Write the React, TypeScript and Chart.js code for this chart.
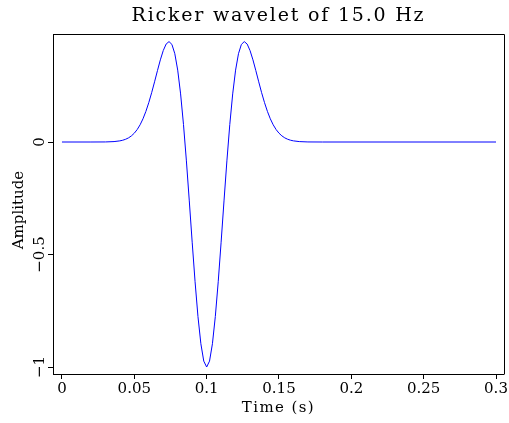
import React, { useEffect, useRef } from "react";
import { Chart, registerables } from "chart.js";

Chart.register(...registerables);

const TITLE = "Ricker wavelet of 15.0 Hz";
const X_TITLE = "Time (s)";
const Y_TITLE = "Amplitude";

const xTicks = [0, 0.05, 0.1, 0.15, 0.2, 0.25, 0.3];
const xTickLabels = ["0", "0.05", "0.1", "0.15", "0.2", "0.25", "0.3"];
const yTicks = [-1, -0.5, 0];
const yTickLabels = ["\u22121", "\u22120.5", "0"];

const times = [
  0, 0.02, 0.03, 0.036,
  0.04, 0.042, 0.044, 0.046, 0.048, 0.05, 0.052, 0.054, 0.056, 0.058,
  0.06, 0.062, 0.064, 0.066, 0.068, 0.07, 0.072, 0.074, 0.076, 0.078,
  0.08, 0.082, 0.084, 0.086, 0.088, 0.09, 0.092, 0.094, 0.096, 0.098,
  0.1,
  0.102, 0.104, 0.106, 0.108, 0.11, 0.112, 0.114, 0.116, 0.118, 0.12,
  0.122, 0.124, 0.126, 0.128, 0.13, 0.132, 0.134, 0.136, 0.138, 0.14,
  0.142, 0.144, 0.146, 0.148, 0.15, 0.152, 0.154, 0.156, 0.158, 0.16,
  0.164, 0.17, 0.18, 0.3,
];

const amplitudes = [
  0, 0, 0.0003, 0.0019,
  0.0051, 0.0079, 0.0122, 0.0184, 0.0272, 0.0392, 0.0554, 0.0765, 0.1032, 0.136,
  0.1749, 0.2192, 0.2675, 0.3173, 0.3651, 0.4062, 0.4353, 0.4463, 0.4336, 0.3924,
  0.3194, 0.2138, 0.0776, -0.0838, -0.2618, -0.4452, -0.6209, -0.7756, -0.8965, -0.9736,
  -1,
  -0.9736, -0.8965, -0.7756, -0.6209, -0.4452, -0.2618, -0.0838, 0.0776, 0.2138, 0.3194,
  0.3924, 0.4336, 0.4463, 0.4353, 0.4062, 0.3651, 0.3173, 0.2675, 0.2192, 0.1749,
  0.136, 0.1032, 0.0765, 0.0554, 0.0392, 0.0272, 0.0184, 0.0122, 0.0079, 0.0051,
  0.0019, 0.0003, 0, 0,
];

const FONT = "'DejaVu Serif', serif";

const framePlugin = {
  id: "framePlugin",
  afterDraw(chart: any) {
    const ctx = chart.ctx as CanvasRenderingContext2D;
    const { left, right, top, bottom } = chart.chartArea;
    const ys = chart.scales.y;
    ctx.save();
    ctx.strokeStyle = "#000";
    ctx.lineWidth = 1;
    ctx.beginPath();
    ctx.moveTo(Math.round(left) + 0.5, Math.round(top) + 0.5);
    ctx.lineTo(Math.round(right) + 0.5, Math.round(top) + 0.5);
    ctx.lineTo(Math.round(right) + 0.5, Math.round(bottom) + 0.5);
    ctx.stroke();

    ctx.fillStyle = "#000";
    // title
    ctx.font = `19px ${FONT}`;
    (ctx as any).letterSpacing = "1.8px";
    ctx.textAlign = "center";
    ctx.textBaseline = "middle";
    ctx.fillText(TITLE, (left + right) / 2, 16);

    // x title
    ctx.font = `15px ${FONT}`;
    (ctx as any).letterSpacing = "1.4px";
    ctx.fillText(X_TITLE, (left + right) / 2, 408);

    // y title
    ctx.save();
    ctx.translate(19, (top + bottom) / 2 + 6);
    ctx.rotate(-Math.PI / 2);
    (ctx as any).letterSpacing = "0px";
    ctx.fillText(Y_TITLE, 0, 0);
    ctx.restore();

    // y tick labels, rotated
    (ctx as any).letterSpacing = "0px";
    ctx.font = `15px ${FONT}`;
    yTicks.forEach((v, i) => {
      const py = ys.getPixelForValue(v);
      ctx.save();
      ctx.translate(40, py);
      ctx.rotate(-Math.PI / 2);
      ctx.fillText(yTickLabels[i], 0, 0);
      ctx.restore();
    });
    ctx.restore();
  },
};

export default function App() {
  const ref = useRef<HTMLCanvasElement | null>(null);

  useEffect(() => {
    if (!ref.current) return;
    const chart = new Chart(ref.current, {
      type: "line",
      data: {
        datasets: [
          {
            data: times.map((t, i) => ({ x: t, y: amplitudes[i] })),
            borderColor: "#0000ff",
            borderWidth: 1,
            pointRadius: 0,
            tension: 0,
            fill: false,
          },
        ],
      },
      options: {
        responsive: false,
        animation: false,
        layout: { padding: { top: 34, right: 4, left: 0, bottom: 0 } },
        plugins: {
          legend: { display: false },
          tooltip: { enabled: false },
          title: { display: false },
        },
        scales: {
          x: {
            type: "linear",
            min: -0.0062,
            max: 0.3055,
            afterBuildTicks: (scale: any) => {
              scale.ticks = xTicks.map((v) => ({ value: v }));
            },
            afterFit: (scale: any) => {
              scale.height = 49;
            },
            grid: {
              drawOnChartArea: false,
              drawTicks: true,
              tickLength: 5,
              color: "#000",
            },
            border: { display: true, color: "#000", width: 1 },
            ticks: {
              maxRotation: 0,
              minRotation: 0,
              padding: 1,
              color: "#000",
              font: { family: FONT, size: 15 },
              callback: (v: any) => {
                const i = xTicks.findIndex((t) => Math.abs(t - v) < 1e-9);
                return i >= 0 ? xTickLabels[i] : "";
              },
            },
          },
          y: {
            type: "linear",
            min: -1.031,
            max: 0.48,
            afterBuildTicks: (scale: any) => {
              scale.ticks = yTicks.map((v) => ({ value: v }));
            },
            afterFit: (scale: any) => {
              scale.width = 53;
            },
            grid: {
              drawOnChartArea: false,
              drawTicks: true,
              tickLength: 5,
              color: "#000",
            },
            border: { display: true, color: "#000", width: 1 },
            ticks: {
              color: "rgba(0,0,0,0)",
              font: { family: FONT, size: 15 },
              callback: () => "",
            },
          },
        },
      },
      plugins: [framePlugin],
    });
    return () => chart.destroy();
  }, []);

  return (
    <div style={{ position: "absolute", left: 0, top: 0, width: 509, height: 423, background: "#fff" }}>
      <canvas ref={ref} width={509} height={423} />
    </div>
  );
}
